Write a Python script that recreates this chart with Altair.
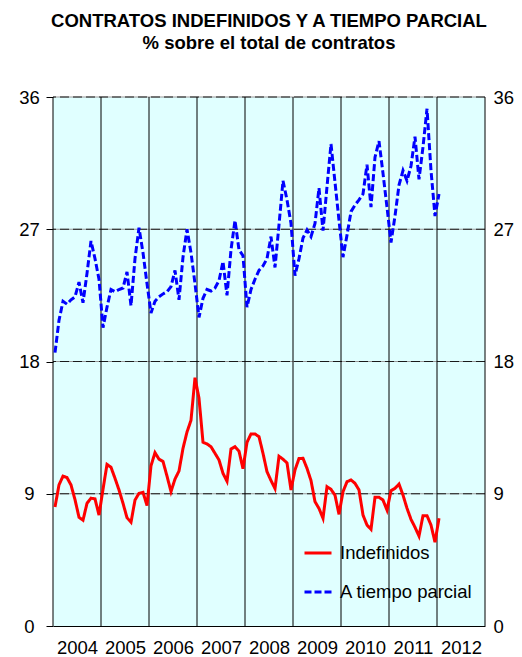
import altair as alt
import pandas as pd

# ---- data ----
year_labels = list(range(2004, 2013))
year_bounds = list(range(2004, 2014))
y_ticks = [0, 9, 18, 27, 36]
h_grid = [9, 18, 27, 36]
series_names = ["Indefinidos", "A tiempo parcial"]

indefinidos = [
    8.1, 9.6, 10.2, 10.1, 9.6, 8.6, 7.4, 7.2, 8.35, 8.7, 8.65, 7.55,      # 2004
    9.3, 11.0, 10.8, 10.05, 9.26, 8.35, 7.37, 7.06, 8.57, 9.03, 9.1, 8.2,  # 2005
    10.9, 11.8, 11.35, 11.2, 10.2, 9.15, 10.0, 10.55, 12.09, 13.2, 14.0, 16.9,  # 2006
    15.5, 12.5, 12.39, 12.2, 11.75, 11.3, 10.39, 9.85, 12.05, 12.2, 11.9, 10.7,  # 2007
    12.5, 13.07, 13.07, 12.88, 11.75, 10.5, 9.9, 9.35, 11.55, 11.35, 11.1, 9.26,  # 2008
    10.62, 11.4, 11.41, 10.73, 9.9, 8.46, 8.0, 7.33, 9.48, 9.3, 8.9, 7.6,  # 2009
    9.14, 9.82, 9.94, 9.71, 9.26, 7.55, 6.87, 6.58, 8.76, 8.76, 8.57, 7.89,  # 2010
    9.21, 9.37, 9.66, 8.91, 8.01, 7.26, 6.72, 6.12, 7.51, 7.51, 6.87, 5.7,  # 2011
    7.33,  # 2012
]

parcial = [
    18.6, 20.8, 22.1, 21.9, 22.2, 22.4, 23.4, 22.0, 24.0, 26.2, 25.0, 23.6,  # 2004
    20.3, 21.7, 22.9, 22.75, 22.9, 23.0, 24.1, 21.8, 25.0, 27.1, 25.4, 23.3,  # 2005
    21.3, 22.1, 22.4, 22.6, 22.75, 23.1, 24.2, 22.2, 25.1, 27.0, 25.4, 23.3,  # 2006
    21.0, 22.3, 22.9, 22.8, 23.0, 23.5, 24.8, 22.5, 25.6, 27.6, 25.6, 25.2,  # 2007
    21.7, 22.9, 23.6, 24.2, 24.5, 25.0, 26.5, 24.4, 27.3, 30.3, 29.0, 27.4,  # 2008
    23.85, 25.0, 26.4, 26.95, 26.5, 27.4, 29.8, 26.9, 29.9, 32.8, 30.2, 27.6,  # 2009
    25.1, 26.6, 28.2, 28.65, 29.0, 29.4, 31.4, 28.5, 31.9, 33.0, 30.8, 28.5,  # 2010
    26.1, 27.9, 30.0, 31.0, 30.3, 31.3, 33.3, 30.4, 32.6, 35.2, 31.0, 27.9,  # 2011
    29.4,  # 2012
]

n = len(indefinidos)
t = [2004 + (i + 0.5) / 12 for i in range(n)]
df = pd.DataFrame({
    "t": t + t,
    "v": indefinidos + parcial,
    "serie": [series_names[0]] * n + [series_names[1]] * n,
})

FONT = "Liberation Sans"
FS = 18.5

xscale = alt.Scale(domain=[2004, 2013], nice=False, zero=False)
yscale = alt.Scale(domain=[0, 36], nice=False, zero=True)

x_axis = alt.Axis(orient="bottom", values=[y + 0.5 for y in year_labels],
                  labelExpr="'' + floor(datum.value)", title=None, grid=False,
                  ticks=False, domain=True, domainColor="black", domainWidth=1,
                  labelFont=FONT, labelFontSize=FS, labelColor="black",
                  labelPadding=12, labelOverlap=False)

hgrid_df = pd.DataFrame({"g": h_grid})
vgrid_df = pd.DataFrame({"b": year_bounds})

# right axis carrier (gray base of dashed grid)
hgrid_base = alt.Chart(hgrid_df).mark_rule(color="#9a9a9a", strokeWidth=1).encode(
    y=alt.Y("g:Q", scale=yscale,
            axis=alt.Axis(orient="right", values=y_ticks, title=None, grid=False,
                          domain=False, ticks=False,
                          labelFont=FONT, labelFontSize=FS, labelColor="black",
                          labelAlign="left", labelPadding=8))
)
hgrid_dash = alt.Chart(hgrid_df).mark_rule(color="#1a1a1a", strokeWidth=1, strokeDash=[9, 4]).encode(
    y=alt.Y("g:Q", scale=yscale, axis=None)
)
vgrid = alt.Chart(vgrid_df).mark_rule(color="black", strokeWidth=1).encode(
    x=alt.X("b:Q", scale=xscale, axis=x_axis)
)

leg = alt.Legend(orient="none", legendX=250, legendY=441, title=None,
                 symbolType="stroke", symbolSize=729, symbolStrokeWidth=3,
                 labelFont=FONT, labelFontSize=FS, labelColor="black",
                 labelOffset=7, rowPadding=14, padding=0)

lines = alt.Chart(df).mark_line(strokeWidth=3).encode(
    x=alt.X("t:Q", scale=xscale, axis=x_axis),
    y=alt.Y("v:Q", scale=yscale,
            axis=alt.Axis(orient="left", values=y_ticks, title=None, grid=False,
                          domain=False, ticks=True, tickSize=7, tickColor="black",
                          labelFont=FONT, labelFontSize=FS, labelColor="black",
                          labelAlign="center", labelPadding=17)),
    color=alt.Color("serie:N",
                    scale=alt.Scale(domain=series_names, range=["#FF0000", "#0000FF"]),
                    legend=leg),
    strokeDash=alt.StrokeDash("serie:N",
                              scale=alt.Scale(domain=series_names, range=[[1, 0], [7, 3]]),
                              legend=leg),
)

chart = alt.layer(hgrid_base, hgrid_dash, vgrid, lines).resolve_scale(
    y="independent"
).properties(
    width=432,
    height=529,
    padding={"left": 45, "top": 89, "right": 29, "bottom": 32},
    autosize=alt.AutoSizeParams(type="none"),
    title=alt.TitleParams(
        text="CONTRATOS INDEFINIDOS Y A TIEMPO PARCIAL",
        subtitle="% sobre el total de contratos",
        font=FONT, subtitleFont=FONT,
        fontSize=FS, subtitleFontSize=FS,
        fontWeight="bold", subtitleFontWeight="bold",
        color="black", subtitleColor="black",
        anchor="middle", offset=36, subtitlePadding=3,
    ),
).configure_view(fill="#E0FFFF", stroke=None)

chart.save("out.html", embed_options={"renderer": "svg", "actions": False})
